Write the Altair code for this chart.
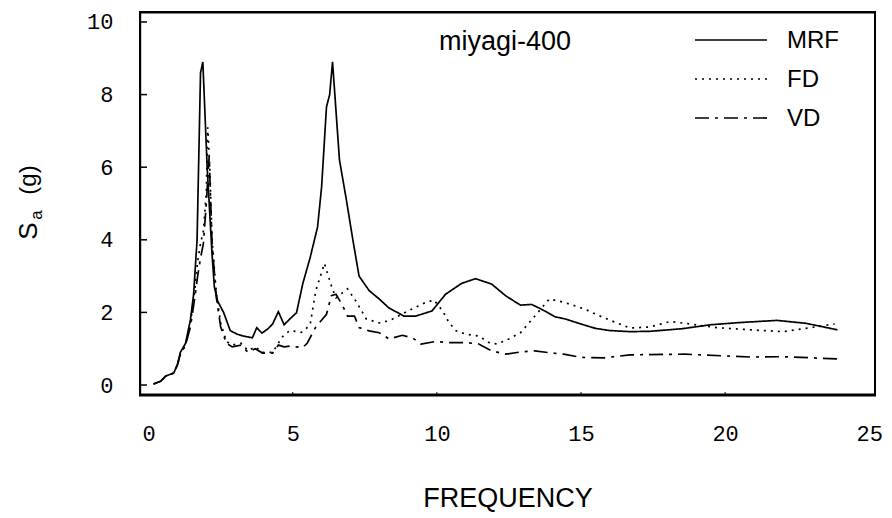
import altair as alt
import pandas as pd

# ---- data ----
SERIES = ["MRF", "FD", "VD"]

MRF_X = [0.17, 0.41, 0.6, 0.87, 1.0, 1.1, 1.28, 1.45, 1.56, 1.68, 1.8, 1.88, 2.03, 2.2, 2.28, 2.4, 2.6,
         2.83, 3.07, 3.28, 3.6, 3.75, 3.93, 4.14, 4.3, 4.5, 4.7, 4.9, 5.13, 5.35, 5.6, 5.86, 6.0, 6.17,
         6.28, 6.38, 6.62, 6.86, 7.07, 7.3, 7.65, 8.0, 8.34, 8.86, 9.27, 9.83, 10.3, 10.86, 11.34, 11.9,
         12.4, 12.9, 13.28, 13.6, 14.1, 14.45, 15.0, 15.5, 16.0, 16.7, 17.4, 18.5, 19.5, 20.5, 21.8,
         22.8, 23.9]
MRF_Y = [0.03, 0.1, 0.25, 0.33, 0.57, 0.9, 1.15, 1.8, 2.5, 4.0, 8.6, 8.9, 6.0, 3.6, 2.7, 2.3, 2.0,
         1.5, 1.4, 1.35, 1.3, 1.58, 1.43, 1.55, 1.68, 2.02, 1.66, 1.82, 1.99, 2.8, 3.5, 4.35, 5.45, 7.66,
         8.0, 8.9, 6.2, 5.1, 4.07, 3.0, 2.6, 2.37, 2.12, 1.9, 1.9, 2.04, 2.5, 2.8, 2.93, 2.78,
         2.45, 2.2, 2.22, 2.1, 1.88, 1.82, 1.68, 1.56, 1.5, 1.47, 1.48, 1.55, 1.66, 1.72, 1.78,
         1.7, 1.52]

FD_X = [0.17, 0.41, 0.6, 0.87, 1.0, 1.1, 1.28, 1.45, 1.6, 1.7, 1.8, 1.9, 2.0, 2.05, 2.12, 2.2, 2.35,
        2.5, 2.7, 2.9, 3.2, 3.45, 3.7, 3.95, 4.3, 4.5, 4.6, 4.9, 5.3, 5.6, 5.8, 6.1, 6.35, 6.5, 6.9,
        7.2, 7.55, 8.0, 8.35, 9.0, 9.6, 9.9, 10.2, 10.4, 10.65, 11.0, 11.45, 11.85, 12.1, 12.5, 12.9,
        13.4, 13.9, 14.4, 15.1, 15.8, 16.7, 17.4, 18.1, 18.8, 19.7, 20.9, 22.0, 22.7, 23.8]
FD_Y = [0.03, 0.1, 0.25, 0.33, 0.55, 0.85, 1.1, 1.7, 2.6, 3.4, 3.9, 4.25, 5.3, 7.1, 6.0, 4.0, 2.5,
        1.7, 1.2, 1.1, 1.15, 0.95, 1.05, 0.9, 0.9, 1.15, 1.3, 1.5, 1.45, 1.65, 2.6, 3.35, 2.7, 2.4, 2.65,
        2.3, 1.82, 1.71, 1.77, 2.04, 2.27, 2.34, 2.04, 1.75, 1.5, 1.4, 1.35, 1.15, 1.13, 1.27, 1.44,
        1.9, 2.37, 2.28, 2.1, 1.85, 1.57, 1.6, 1.75, 1.68, 1.58, 1.52, 1.47, 1.55, 1.68]

VD_X = [0.17, 0.41, 0.6, 0.87, 1.0, 1.1, 1.28, 1.45, 1.6, 1.7, 1.8, 1.9, 2.0, 2.1, 2.2, 2.35, 2.5,
        2.7, 2.9, 3.2, 3.45, 3.7, 3.95, 4.3, 4.5, 4.7, 4.9, 5.34, 5.5, 5.8, 6.17, 6.34, 6.5, 6.7, 6.9,
        7.14, 7.3, 7.65, 8.0, 8.34, 8.8, 9.15, 9.45, 9.96, 10.4, 11.0, 11.45, 11.9, 12.4, 12.9, 13.4,
        14.0, 14.4, 15.0, 15.8, 16.7, 18.6, 20.9, 22.0, 23.9]
VD_Y = [0.03, 0.1, 0.25, 0.33, 0.55, 0.85, 1.1, 1.6, 2.4, 3.0, 3.5, 3.9, 5.0, 6.3, 3.9, 2.4, 1.6,
        1.15, 1.05, 1.1, 0.9, 1.0, 0.88, 0.88, 1.1, 1.05, 1.07, 1.03, 1.15, 1.6, 1.95, 2.46, 2.5, 2.23, 1.9,
        1.9, 1.58, 1.49, 1.44, 1.27, 1.37, 1.3, 1.13, 1.2, 1.17, 1.17, 1.13, 0.94, 0.85, 0.91, 0.94,
        0.88, 0.85, 0.76, 0.75, 0.83, 0.85, 0.77, 0.78, 0.72]

X_TICKS = [0, 5, 10, 15, 20, 25]
Y_TICKS = [0, 2, 4, 6, 8, 10]
ANNOTATION = "miyagi-400"
X_TITLE = "FREQUENCY"

assert len(MRF_X) == len(MRF_Y) and len(FD_X) == len(FD_Y) and len(VD_X) == len(VD_Y)

rows = []
for name, xs, ys in [("MRF", MRF_X, MRF_Y), ("FD", FD_X, FD_Y), ("VD", VD_X, VD_Y)]:
    for i, (a, b) in enumerate(zip(xs, ys)):
        rows.append({"series": name, "x": a, "y": b, "i": i})
df = pd.DataFrame(rows)

DASHES = [[1, 0], [2, 5], [14, 6, 3, 6]]
SANS = "Liberation Sans"
MONO = "Liberation Mono"

W, H = 735, 383
X_DOM = [-0.3, 25.2]
Y_DOM = [-0.275, 10.275]

X_ENC = alt.X("x:Q",
              scale=alt.Scale(domain=X_DOM, nice=False, zero=False),
              axis=alt.Axis(values=X_TICKS, title=X_TITLE, titleY=111, titleBaseline="alphabetic",
                            titleFont=SANS, titleFontSize=27, titleFontWeight="normal",
                            titleColor="black", labelFont=MONO, labelFontSize=22,
                            labelColor="black", labelPadding=28, labelBaseline="top",
                            ticks=False, domain=False, grid=False, labelFlush=False))
Y_ENC = alt.Y("y:Q",
              scale=alt.Scale(domain=Y_DOM, nice=False, zero=False),
              axis=alt.Axis(values=Y_TICKS, title=None, labelFont=MONO, labelFontSize=22,
                            labelColor="black", labelPadding=27, ticks=False, domain=False,
                            grid=False, labelFlush=False))

lines = alt.Chart(df).mark_line(color="black", strokeWidth=1.7).encode(
    x=X_ENC, y=Y_ENC,
    strokeDash=alt.StrokeDash("series:N",
                              scale=alt.Scale(domain=SERIES, range=DASHES), legend=None),
    detail="series:N",
    order="i:Q",
)

ytick_df = pd.DataFrame({"y": Y_TICKS})
yticks = alt.Chart(ytick_df).mark_rule(color="black", strokeWidth=1.5).encode(
    y=Y_ENC, x=alt.value(0), x2=alt.value(7))

xtick_df = pd.DataFrame({"x": X_TICKS[1:-1]})
xticks = alt.Chart(xtick_df).mark_rule(color="black", strokeWidth=1).encode(
    x=X_ENC, y=alt.value(H - 3), y2=alt.value(H))

layers = [lines, yticks, xticks]

# plot frame as thin filled strips (top, bottom, left, right)
for name, x1, x2, y1, y2 in [("top", -1, W + 1, -1, 1.5),
                             ("bottom", -1, W + 1, H - 1.5, H + 1.5),
                             ("left", -1, 1.2, -1, H + 1),
                             ("right", W - 1, W + 1, -1, H + 1)]:
    layers.append(alt.Chart(pd.DataFrame({"edge": [name]})).mark_rect(color="black").encode(
        x=alt.value(x1), x2=alt.value(x2), y=alt.value(y1), y2=alt.value(y2)))

# legend drawn inside the plot
for k, name in enumerate(SERIES):
    ldf = pd.DataFrame({"s": [name]})
    layers.append(alt.Chart(ldf).mark_rule(color="black", strokeWidth=1.7,
                                           strokeDash=DASHES[k]).encode(
        x=alt.value(555), x2=alt.value(627), y=alt.value(28 + 39 * k)))
    layers.append(alt.Chart(ldf).mark_text(font=SANS, fontSize=24, align="left",
                                           baseline="middle", color="black").encode(
        x=alt.value(647), y=alt.value(29 + 39 * k), text="s:N"))

ann = alt.Chart(pd.DataFrame({"t": [ANNOTATION]})).mark_text(
    font=SANS, fontSize=27, align="center", baseline="alphabetic", color="black").encode(
    x=alt.value(365), y=alt.value(38), text="t:N")
layers.append(ann)

# y-axis title S_a (g), rotated
for txt, size, px, py in [("S", 26, -111, 219), ("a", 17, -103, 203), ("(g)", 24, -111, 168)]:
    layers.append(alt.Chart(pd.DataFrame({"t": [txt]})).mark_text(
        font=SANS, fontSize=size, angle=270, align="center", baseline="middle",
        color="black").encode(x=alt.value(px), y=alt.value(py), text="t:N"))

chart = alt.layer(*layers).properties(
    width=W, height=H,
    background="white",
    autosize=alt.AutoSizeParams(type="none"),
    padding={"left": 132, "top": 4, "right": 9, "bottom": 117},
).configure_view(stroke="black", strokeWidth=2)

chart.save("out.html", embed_options={"renderer": "svg", "actions": False})
